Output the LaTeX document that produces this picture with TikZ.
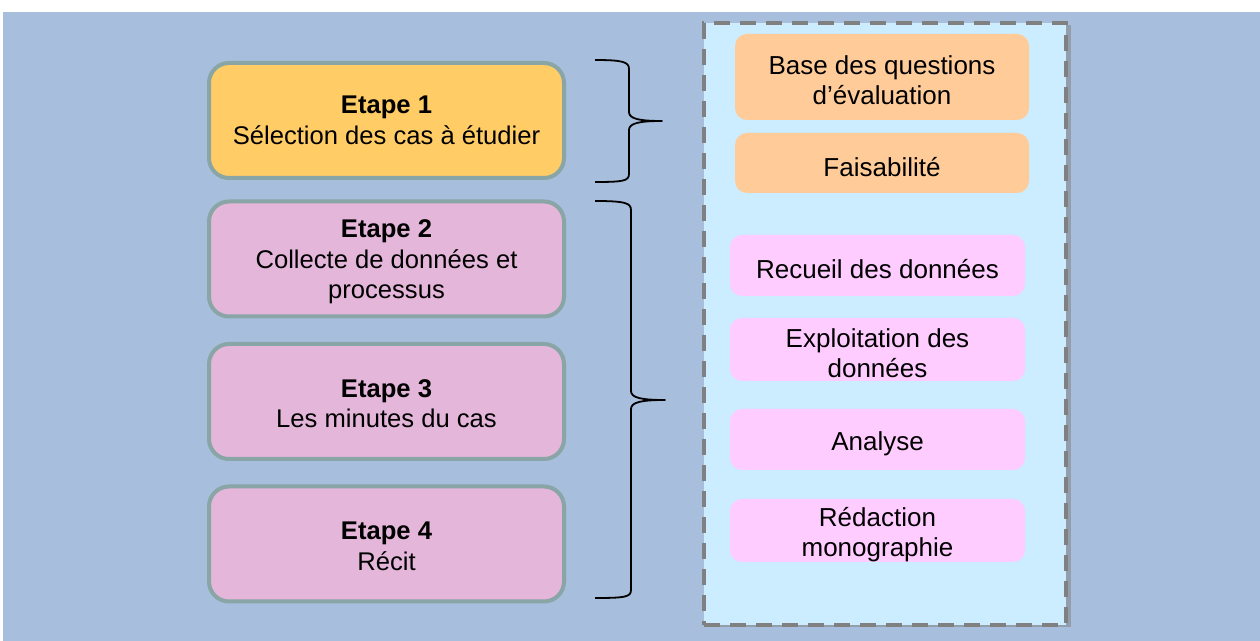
\documentclass[tikz,border=0pt]{standalone}
\usepackage{fontspec}
\setmainfont{Liberation Sans}
\usetikzlibrary{shadows}

\definecolor{bgblue}{RGB}{167,190,220}
\definecolor{etborder}{RGB}{137,165,166}
\definecolor{etyellow}{RGB}{255,204,102}
\definecolor{etmauve}{RGB}{228,182,218}
\definecolor{panelblue}{RGB}{204,236,255}
\definecolor{taskorange}{RGB}{255,204,153}
\definecolor{taskpink}{RGB}{255,204,255}

\tikzset{
  etape/.style={draw=etborder, line width=2pt, rounded corners=10pt,
    minimum width=177.5pt, minimum height=57.5pt, inner sep=0pt,
    align=center, font=\fontsize{12.8}{15.3}\selectfont},
  task/.style={rounded corners=6pt, minimum width=147pt, inner sep=0pt,
    align=center, font=\fontsize{13}{15}\selectfont,
    execute at begin node={\rule{0pt}{#1}}},
  task/.default=13.5pt,
  accolade/.style={line width=0.9pt, line join=round},
}

\begin{document}
\begin{tikzpicture}[x=0.5pt,y=-0.5pt]
\useasboundingbox (0,0) rectangle (1260,641);
\fill[bgblue] (3,12) rectangle (1260,641);

% etapes
\node[etape, fill=etyellow] (e1) at (386.5,120.5) {\textbf{Etape 1}\\Sélection des cas à étudier};
\node[etape, fill=etmauve] (e2) at (386.5,259) {\rule{0pt}{12pt}\textbf{Etape 2}\\Collecte de données et\\processus};
\node[etape, fill=etmauve] (e3) at (386.5,401.5) {\rule{0pt}{11pt}\textbf{Etape 3}\\Les minutes du cas};
\node[etape, fill=etmauve] (e4) at (386.5,544) {\rule{0pt}{11pt}\textbf{Etape 4}\\Récit};

% accolades
\draw[accolade] (595,60) .. controls (623,60) and (629,62) .. (629,69) -- (629,112)
  .. controls (629,119) and (640,121) .. (662,121)
  .. controls (640,121) and (629,123) .. (629,130) -- (629,174)
  .. controls (629,181) and (623,182) .. (595,182);
\draw[accolade] (595,201) .. controls (625,201) and (631,203) .. (631,210) -- (631,391)
  .. controls (631,398) and (642,400) .. (665,400)
  .. controls (642,400) and (631,402) .. (631,409) -- (631,590)
  .. controls (631,597) and (625,598) .. (595,598);

% panel
\node[draw=black!50, line width=2.2pt, dash pattern=on 8pt off 5pt, fill=panelblue,
  minimum width=181pt, minimum height=301pt,
  drop shadow={shadow xshift=2.5pt, shadow yshift=-1pt, opacity=0.5}] (panel) at (885,324) {};

% taches
\node[task=28pt, fill=taskorange, minimum height=43pt] (base) at (882,77) {Base des questions\\d’évaluation};
\node[task, fill=taskorange, minimum height=30pt] (faisa) at (882,163) {Faisabilité};
\node[task, fill=taskpink, minimum width=147.5pt, minimum height=30.5pt] (recueil) at (877.5,265.5) {Recueil des données};
\node[task=28pt, fill=taskpink, minimum width=147.5pt, minimum height=31.5pt] (exploit) at (877.5,349.5) {Exploitation des\\données};
\node[task, fill=taskpink, minimum width=147.5pt, minimum height=30.5pt] (analyse) at (877.5,439.5) {Analyse};
\node[task=28.5pt, fill=taskpink, minimum width=147.5pt, minimum height=31.5pt] (redac) at (877.5,530.5) {Rédaction\\monographie};
\end{tikzpicture}
\end{document}
